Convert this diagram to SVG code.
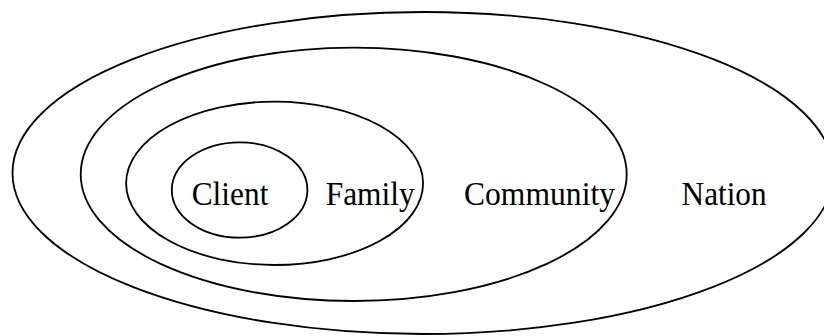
<svg xmlns="http://www.w3.org/2000/svg" width="824" height="336" viewBox="0 0 824 336">
  <style>
    .ring { fill: none; stroke: #000; stroke-width: 1.8; }
    .label { font-family: "Liberation Serif", "Times New Roman", serif; font-size: 30px; fill: #000; }
  </style>
  <rect width="824" height="336" fill="#fff"/>
  <g id="nation">
    <ellipse class="ring" cx="423" cy="173" rx="410.5" ry="161"/>
    <text class="label" transform="translate(0 205) scale(1 1.12)" x="681.6" y="0" textLength="85" lengthAdjust="spacingAndGlyphs">Nation</text>
  </g>
  <g id="community">
    <ellipse class="ring" cx="353.7" cy="174.3" rx="273" ry="126.7"/>
    <text class="label" transform="translate(0 205) scale(1 1.12)" x="464" y="0" textLength="151" lengthAdjust="spacingAndGlyphs">Community</text>
  </g>
  <g id="family">
    <ellipse class="ring" cx="274.6" cy="183.3" rx="148.5" ry="81.7"/>
    <text class="label" transform="translate(0 205) scale(1 1.12)" x="325.7" y="0" textLength="89" lengthAdjust="spacingAndGlyphs">Family</text>
  </g>
  <g id="client">
    <ellipse class="ring" cx="239.6" cy="190" rx="67.8" ry="47.7"/>
    <text class="label" transform="translate(0 205) scale(1 1.12)" x="191.7" y="0" textLength="76.7" lengthAdjust="spacingAndGlyphs">Client</text>
  </g>
  <g id="connectors"/>
</svg>
